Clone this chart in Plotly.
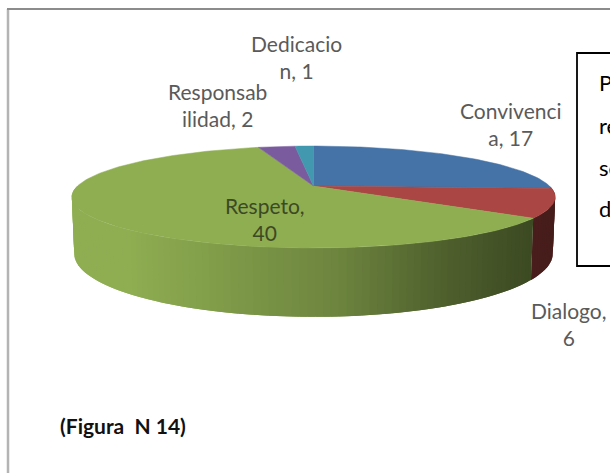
import math
import plotly.graph_objects as go

categorias = ["Convivencia", "Dialogo", "Respeto", "Responsabilidad", "Dedicacion"]
valores = [17, 6, 40, 2, 1]
colores = ["#4573A7", "#AA4643", "#8FAE52", "#7A5C9E", "#4198AF"]
etiquetas = ["Convivenci<br>a, 17", "Dialogo,<br>6", "Respeto,<br>40",
             "Responsab<br>ilidad, 2", "Dedicacio<br>n, 1"]
etiqueta_xy = [(511, 124), (568, 324), (265, 219), (217, 105), (296, 57)]
caja_lineas = ["P", "re", "se", "d"]
caja_y = [82, 125, 167, 208]

CX, CY, RX, RY, K, D = 313.5, 186.0, 236.0, 48.6, 0.2157, 54.0
total = sum(valores)


def proyecta(a_deg, fondo=False):
    a = math.radians(a_deg)
    u, v = math.sin(a), -math.cos(a)
    w = 1 - K * v
    if fondo:
        return CX + 0.99 * RX * u / w, CY + (RY * v + D) / w
    return CX + RX * u / w, CY + RY * v / w


def rango(a0, a1, paso=1.0):
    n = max(2, int(abs(a1 - a0) / paso) + 1)
    return [a0 + (a1 - a0) * i / (n - 1) for i in range(n)]


def brillo(x):
    pts = [(0, 1.0), (130, 1.0), (340, 0.76), (440, 0.56), (530, 0.43), (620, 0.38)]
    for (x0, b0), (x1, b1) in zip(pts, pts[1:]):
        if x <= x1:
            return b0 + (b1 - b0) * (x - x0) / (x1 - x0)
    return pts[-1][1]


def oscurece(hexa, f):
    r, g, b = (int(hexa[i:i + 2], 16) for i in (1, 3, 5))
    return f"rgb({int(r * f)},{int(g * f)},{int(b * f)})"


fig = go.Figure()
limites = []
acum = 0.0
for val in valores:
    limites.append((acum, acum + val / total * 360))
    acum += val / total * 360

# Pared lateral: tiras solapadas para que no se vean costuras
for (a0, a1), color in zip(limites, colores):
    ini, fin = max(a0, 90), min(a1, 270)
    if fin <= ini:
        continue
    pasos = rango(ini, fin, 1.5)
    for s0, s1 in zip(pasos, pasos[1:]):
        s2 = min(s1 + 1.5, fin)
        p = [proyecta(s0), proyecta(s1), proyecta(s2), proyecta(s2, True),
             proyecta(s1, True), proyecta(s0, True)]
        xs = [q[0] for q in p] + [p[0][0]]
        ys = [q[1] for q in p] + [p[0][1]]
        c = oscurece(color, brillo((p[0][0] + p[1][0]) / 2))
        fig.add_trace(go.Scatter(x=xs, y=ys, mode="lines", fill="toself", fillcolor=c,
                                 line=dict(color=c, width=0), hoverinfo="skip",
                                 showlegend=False))

# Cara superior
for (a0, a1), color, cat in zip(limites, colores, categorias):
    arco = [proyecta(a) for a in rango(a0, a1, 1.0)]
    xs = [CX] + [q[0] for q in arco] + [CX]
    ys = [CY] + [q[1] for q in arco] + [CY]
    fig.add_trace(go.Scatter(x=xs, y=ys, mode="lines", fill="toself", fillcolor=color,
                             line=dict(color=color, width=0.5), name=cat,
                             hoverinfo="name", showlegend=False))

anots = []
for txt, (x, y), cat in zip(etiquetas, etiqueta_xy, categorias):
    col = "#3C4A24" if cat == "Respeto" else "#5A5A5A"
    anots.append(dict(x=x, y=y, text=txt, showarrow=False, align="center",
                      font=dict(family="Lato", size=21, color=col)))
for txt, y in zip(caja_lineas, caja_y):
    anots.append(dict(x=597, y=y, text=txt, showarrow=False, xanchor="left",
                      font=dict(family="Lato", size=22, color="#000000")))
anots.append(dict(x=58, y=425, text="<b>(Figura  N 14)</b>", showarrow=False, xanchor="left",
                  font=dict(family="Lato", size=21, color="#111111")))

formas = [
    dict(type="line", x0=8, x1=8, y0=9, y1=473, line=dict(color="#B4B4B4", width=2.5), layer="below"),
    dict(type="line", x0=7, x1=610, y0=9, y1=9, line=dict(color="#8C8C8C", width=2), layer="below"),
    dict(type="rect", x0=577, x1=640, y0=53, y1=266, line=dict(color="#000000", width=1.8),
         fillcolor="#FFFFFF", layer="below"),
]

fig.update_layout(
    width=610, height=473, margin=dict(l=0, r=0, t=0, b=0),
    paper_bgcolor="#FFFFFF", plot_bgcolor="#FFFFFF",
    xaxis=dict(range=[0, 610], visible=False, fixedrange=True),
    yaxis=dict(range=[473, 0], visible=False, fixedrange=True),
    annotations=anots, shapes=formas,
)
fig.write_html("out.html", config=dict(displayModeBar=False),
               post_script="document.body.style.margin='0';")
